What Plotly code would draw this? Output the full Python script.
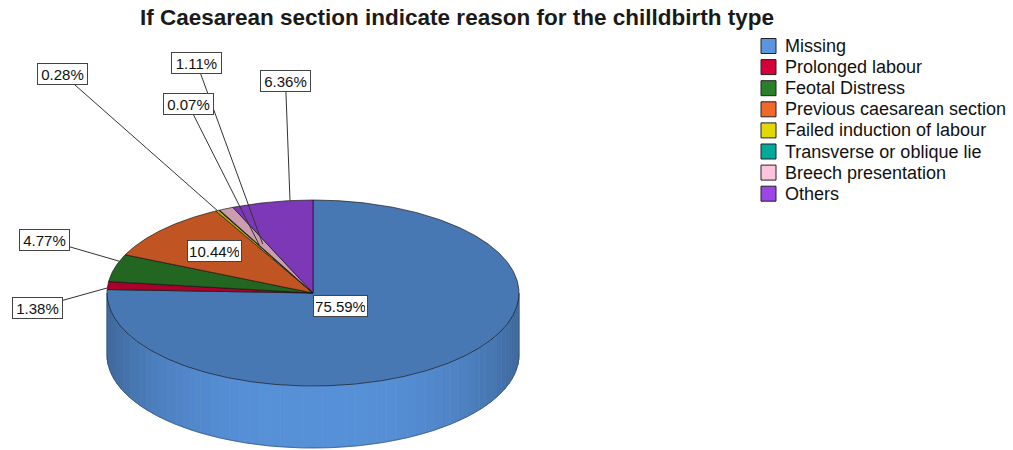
import math
import plotly.graph_objects as go

# ---- data ----
categories = [
    "Missing",
    "Prolonged labour",
    "Feotal Distress",
    "Previous caesarean section",
    "Failed induction of labour",
    "Transverse or oblique lie",
    "Breech presentation",
    "Others",
]
percentages = [75.59, 1.38, 4.77, 10.44, 0.28, 0.07, 1.11, 6.36]
base_colors = ["#5a96e0", "#d40037", "#2a7f2a", "#f0692a",
               "#e3d70a", "#00a99a", "#ffc3dd", "#9c46e6"]

title_text = "If Caesarean section indicate reason for the chilldbirth type"

# ---- layout of the 3D pie (page pixels) ----
W, H = 1013, 450
CX, CY = 313, 293          # centre of the top face
RX, RY = 206, 93           # radii of the top ellipse
DEPTH = 62                 # thickness of the disc

# label box centres and leader anchors (fraction along slice, radius fraction)
label_boxes = [(340, 305.5), (37, 307.5), (44.5, 239.5), (214.5, 251),
               (62.5, 74), (188, 104), (196.5, 62.5), (285.5, 80.5)]
leader_anchor = [None, (0.2, 1.0), (0.75, 1.0), None,
                 (0.5, 1.0), (0.5, 0.57), (0.5, 0.58), (0.72, 1.0)]

LEG_X, LEG_Y0, LEG_DY = 761, 46, 21.1


def shade(hex_color, f):
    h = hex_color.lstrip("#")
    r, g, b = (int(h[i:i + 2], 16) for i in (0, 2, 4))
    r, g, b = (max(0, min(255, round(c * f))) for c in (r, g, b))
    return f"rgb({r},{g},{b})"


def pt(theta_deg, r=1.0, dz=0.0):
    t = math.radians(theta_deg)
    return CX + r * RX * math.sin(t), CY - r * RY * math.cos(t) + dz


def arc(a, b, r=1.0, dz=0.0, step=0.5):
    n = max(2, int(abs(b - a) / step) + 1)
    return [pt(a + (b - a) * i / (n - 1), r, dz) for i in range(n)]


fig = go.Figure()

total = sum(percentages)
bounds = []
acc = 0.0
for v in percentages:
    a = acc / total * 360
    acc += v
    bounds.append((a, acc / total * 360))

# ---- visible side wall (front half: 90..270 degrees) ----
for (a, b), col in zip(bounds, base_colors):
    lo, hi = max(a, 90), min(b, 270)
    if hi <= lo:
        continue
    n = max(1, int((hi - lo) / 3))
    for i in range(n):
        s0 = lo + (hi - lo) * i / n
        s1 = lo + (hi - lo) * (i + 1) / n
        mid = (s0 + s1) / 2
        t = abs(math.sin(math.radians(mid))) ** 3
        c = shade(col, 0.96 - 0.26 * t)
        top = arc(s0, s1)
        bot = arc(s1, s0, dz=DEPTH)
        poly = top + bot + [top[0]]
        fig.add_trace(go.Scatter(
            x=[p[0] for p in poly], y=[p[1] for p in poly],
            mode="lines", fill="toself", fillcolor=c,
            line=dict(color=c, width=0.8), hoverinfo="skip", showlegend=False))

# outline of the side wall
side_out = arc(90, 270, dz=DEPTH)
fig.add_trace(go.Scatter(
    x=[p[0] for p in side_out], y=[p[1] for p in side_out], mode="lines",
    line=dict(color="rgba(40,60,90,0.6)", width=0.8), hoverinfo="skip", showlegend=False))
for ang in (90, 270):
    p0, p1 = pt(ang), pt(ang, dz=DEPTH)
    fig.add_trace(go.Scatter(
        x=[p0[0], p1[0]], y=[p0[1], p1[1]], mode="lines",
        line=dict(color="rgba(60,70,90,0.55)", width=0.8), hoverinfo="skip", showlegend=False))

# ---- top face slices ----
for (a, b), col, name in zip(bounds, base_colors, categories):
    pts = [(CX, CY)] + arc(a, b, step=0.25) + [(CX, CY)]
    fig.add_trace(go.Scatter(
        x=[p[0] for p in pts], y=[p[1] for p in pts],
        mode="lines", fill="toself", fillcolor=shade(col, 0.8),
        line=dict(color="rgba(20,20,20,0.85)", width=0.8),
        name=name, hoverinfo="skip", showlegend=False))

# ---- leader lines and value labels ----
for (a, b), v, box, anc in zip(bounds, percentages, label_boxes, leader_anchor):
    if anc is not None:
        frac, r = anc
        ax, ay = pt(a + (b - a) * frac, r)
        fig.add_trace(go.Scatter(
            x=[box[0], ax], y=[box[1], ay], mode="lines",
            line=dict(color="#333333", width=1), hoverinfo="skip", showlegend=False))
    txt = f"{v:.2f}%"
    fig.add_annotation(
        x=box[0], y=box[1], xref="x", yref="y", text=txt, showarrow=False,
        font=dict(family="Arial, Liberation Sans, sans-serif", size=15, color="#111111"),
        bgcolor="white", bordercolor="#444444", borderwidth=1, borderpad=2,
        width=45 if len(txt) == 5 else 49, height=16)

# ---- legend ----
for i, (name, col) in enumerate(zip(categories, base_colors)):
    yc = LEG_Y0 + i * LEG_DY
    fig.add_shape(type="rect", xref="x", yref="y",
                  x0=LEG_X, x1=LEG_X + 15, y0=yc - 7.5, y1=yc + 7.5,
                  fillcolor=col, line=dict(color="#222222", width=1))
    fig.add_annotation(
        x=LEG_X + 22, y=yc, xref="x", yref="y", text=name, showarrow=False,
        xanchor="left", yanchor="middle",
        font=dict(family="Arial, Liberation Sans, sans-serif", size=18, color="#111111"))

# ---- title ----
fig.add_annotation(
    x=456.5, y=17, xref="x", yref="y", text=f"<b>{title_text}</b>", showarrow=False,
    font=dict(family="Arial, Liberation Sans, sans-serif", size=22.5, color="#1a1a1a"))

fig.update_layout(
    width=W, height=H, margin=dict(l=0, r=0, t=0, b=0),
    paper_bgcolor="white", plot_bgcolor="white", showlegend=False,
    xaxis=dict(range=[0, W], visible=False, fixedrange=True),
    yaxis=dict(range=[H, 0], visible=False, fixedrange=True),
)

fig.write_html("out.html")
